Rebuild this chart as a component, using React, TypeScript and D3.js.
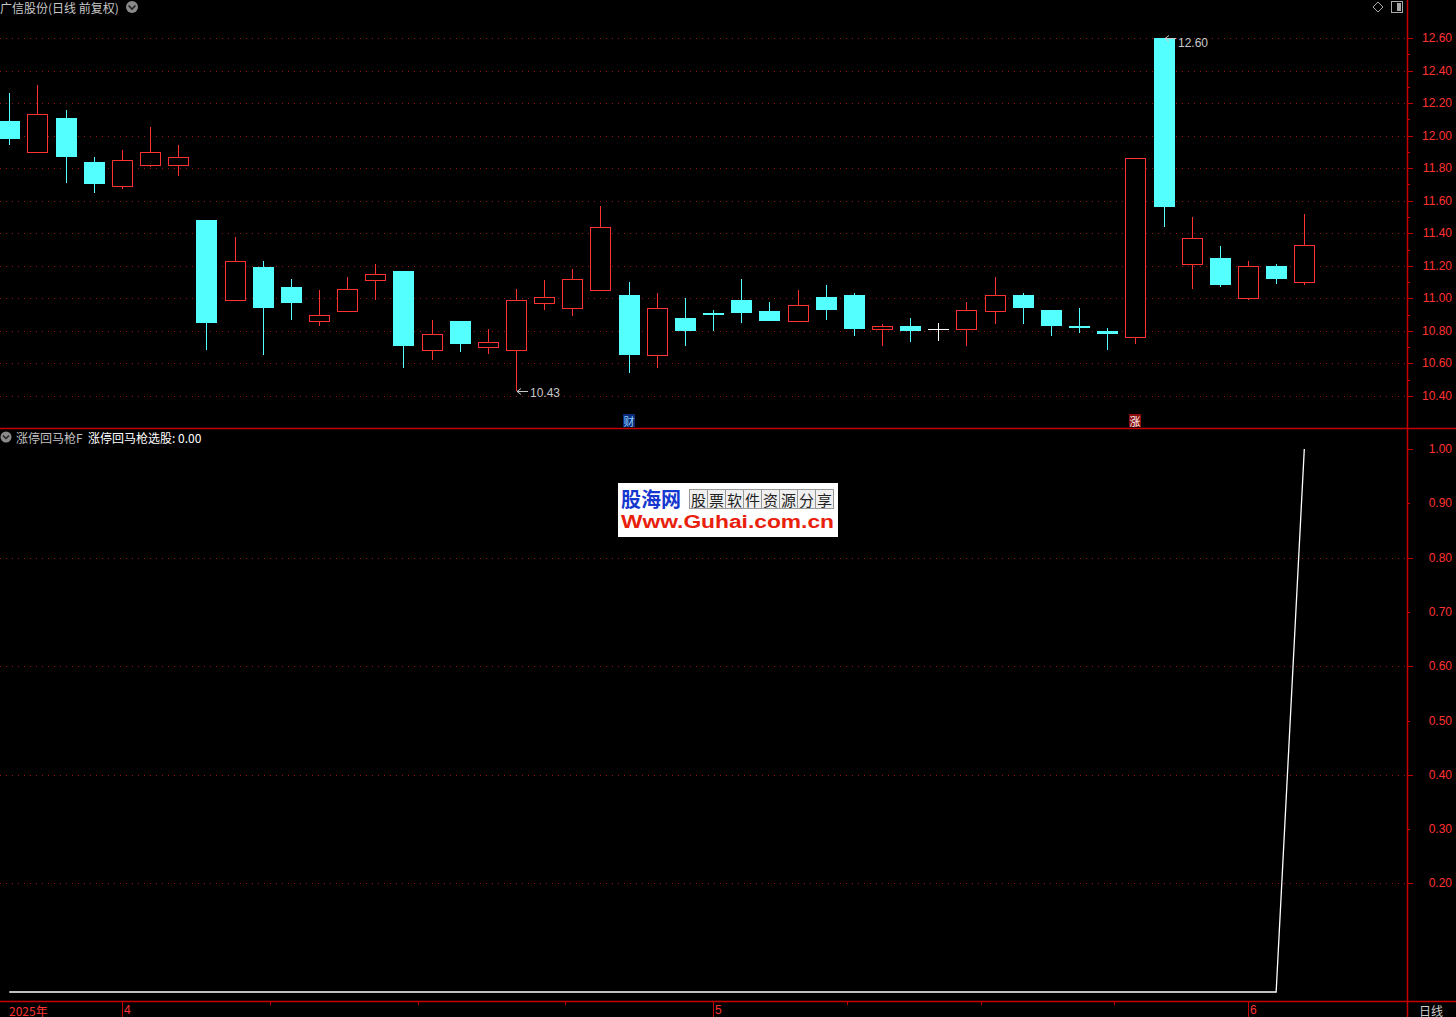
import React, { useEffect } from 'react';
import * as d3 from 'd3';

const W = 1456;
const H = 1017;

// Daily OHLC (前复权)
const opens = [12.09, 11.90, 12.11, 11.84, 11.69, 11.82, 11.82, 11.48, 10.99, 11.19, 11.07, 10.86, 10.92, 11.11, 11.17, 10.68, 10.86, 10.70, 10.68, 10.97, 10.94, 11.05, 11.02, 10.65, 10.88, 10.91, 10.99, 10.92, 10.86, 11.01, 11.02, 10.81, 10.83, 10.81, 10.81, 10.92, 11.02, 10.93, 10.83, 10.80, 10.76, 12.60, 11.21, 11.25, 11.00, 11.20, 11.10];
const highs = [12.26, 12.31, 12.16, 11.87, 11.91, 12.05, 11.94, 11.48, 11.38, 11.23, 11.12, 11.05, 11.13, 11.21, 11.17, 10.87, 10.86, 10.81, 11.06, 11.11, 11.18, 11.57, 11.10, 11.03, 11.00, 10.93, 11.12, 10.98, 11.05, 11.08, 11.03, 10.84, 10.88, 10.85, 10.98, 11.13, 11.03, 10.93, 10.94, 10.82, 11.86, 12.60, 11.50, 11.32, 11.23, 11.21, 11.52];
const lows = [11.94, 11.90, 11.71, 11.65, 11.67, 11.81, 11.75, 10.68, 10.99, 10.65, 10.87, 10.83, 10.92, 10.99, 10.57, 10.62, 10.67, 10.66, 10.43, 10.93, 10.89, 11.05, 10.54, 10.57, 10.71, 10.80, 10.85, 10.86, 10.86, 10.87, 10.77, 10.71, 10.73, 10.74, 10.71, 10.84, 10.84, 10.77, 10.79, 10.68, 10.72, 11.44, 11.06, 11.07, 10.99, 11.09, 11.08];
const closes = [11.98, 12.13, 11.87, 11.70, 11.85, 11.90, 11.87, 10.85, 11.23, 10.94, 10.97, 10.90, 11.06, 11.15, 10.71, 10.78, 10.72, 10.73, 10.99, 11.01, 11.12, 11.44, 10.65, 10.94, 10.80, 10.90, 10.91, 10.86, 10.96, 10.93, 10.81, 10.83, 10.80, 10.81, 10.93, 11.02, 10.94, 10.83, 10.82, 10.78, 11.86, 11.56, 11.37, 11.08, 11.20, 11.12, 11.33];

// 涨停回马枪选股 signal
const signal = [0, 0, 0, 0, 0, 0, 0, 0, 0, 0, 0, 0, 0, 0, 0, 0, 0, 0, 0, 0, 0, 0, 0, 0, 0, 0, 0, 0, 0, 0, 0, 0, 0, 0, 0, 0, 0, 0, 0, 0, 0, 0, 0, 0, 0, 0, 1];

const priceTicks = [10.4, 10.6, 10.8, 11.0, 11.2, 11.4, 11.6, 11.8, 12.0, 12.2, 12.4, 12.6];
const priceMinorTicks = [10.5, 10.7, 10.9, 11.1, 11.3, 11.5, 11.7, 11.9, 12.1, 12.3, 12.5];
const signalTicks = [0.2, 0.3, 0.4, 0.5, 0.6, 0.7, 0.8, 0.9, 1.0];
const signalGrid = [0.2, 0.4, 0.6, 0.8];

const yearLabel = '2025年';
const monthStartIdx = [4, 25, 44];
const monthLabels = ['4', '5', '6'];

const markerIdx = [22, 40];
const markerText = ['财', '涨'];

const titleText = '广信股份(日线 前复权)';
const indName = '涨停回马枪F';
const indLabel = '涨停回马枪选股: 0.00';

const RED = '#ff3232';
const AXIS = '#c80000';
const GRID = '#9a1414';
const CYAN = '#54ffff';
const NUMFONT = '"Liberation Sans", Arial, sans-serif';
const CJK = '"Noto Sans CJK SC", sans-serif';

export default function App() {
  useEffect(() => {
    document.body.style.margin = '0';
    document.body.style.background = '#000';
  }, []);

  const n = closes.length;
  const x = d3.scaleLinear().domain([0, n - 1]).range([9.3, 1304.3]);
  const y = d3.scaleLinear().domain([10.4, 12.6]).range([396, 38]);
  const y2 = d3.scaleLinear().domain([0, 1]).range([992, 449]);

  const axisX = 1407;
  const sepY = 428;
  const xAxisY = 1001;

  const fmt = d3.format('.2f');

  const candles = d3.range(n).map((i) => {
    const o = opens[i], h = highs[i], l = lows[i], c = closes[i];
    const cx = Math.round(x(i));
    const top = Math.round(y(Math.max(o, c)));
    const bot = Math.round(y(Math.min(o, c)));
    const yh = Math.round(y(h));
    const yl = Math.round(y(l));
    if (c === o) {
      return (
        <g key={i}>
          <line x1={cx + 0.5} x2={cx + 0.5} y1={yh} y2={yl} stroke="#fff" strokeWidth={1} />
          <line x1={cx - 10} x2={cx + 11} y1={top + 0.5} y2={top + 0.5} stroke="#fff" strokeWidth={1} />
        </g>
      );
    }
    if (c > o) {
      return (
        <g key={i}>
          {yh < top && <line x1={cx + 0.5} x2={cx + 0.5} y1={yh} y2={top} stroke={RED} />}
          {yl > bot && <line x1={cx + 0.5} x2={cx + 0.5} y1={bot} y2={yl} stroke={RED} />}
          <rect x={cx - 10 + 0.5} y={top + 0.5} width={20} height={Math.max(1, bot - top)} fill="#000" stroke={RED} strokeWidth={1} />
        </g>
      );
    }
    return (
      <g key={i}>
        <line x1={cx + 0.5} x2={cx + 0.5} y1={yh} y2={yl} stroke={CYAN} />
        <rect x={cx - 10} y={top} width={21} height={Math.max(2, bot - top)} fill={CYAN} />
      </g>
    );
  });

  // high/low annotations
  const hiIdx = d3.maxIndex(highs);
  const loIdx = d3.minIndex(lows);
  const annot = (i: number, v: number, dy: number, key: string) => {
    const tx = Math.round(x(i)) + 1;
    const ty = Math.round(y(v)) + 0.5;
    return (
      <g key={key}>
        <line x1={tx} x2={tx + 11} y1={ty} y2={ty} stroke="#c8c8c8" strokeWidth={1} />
        <path d={`M${tx},${ty} l4,-3 M${tx},${ty} l4,3`} stroke="#c8c8c8" strokeWidth={1} fill="none" />
        <text x={tx + 13} y={ty + dy} fill="#c8c8c8" fontSize={12} fontFamily={NUMFONT} dominantBaseline="central">{fmt(v)}</text>
      </g>
    );
  };

  const line = d3.line<number>().x((_, i) => x(i)).y((v) => y2(v));

  // month / quarter ticks
  const monthX = monthStartIdx.map((i) => Math.round(x(i)));
  const quarterX: number[] = [];
  for (let k = 0; k < monthX.length - 1; k++) {
    for (let q = 1; q < 4; q++) quarterX.push(Math.round(monthX[k] + ((monthX[k + 1] - monthX[k]) * q) / 4));
  }

  return (
    <svg width={W} height={H} style={{ display: 'block', position: 'absolute', left: 0, top: 0, background: '#000' }}>
      <rect x={0} y={0} width={W} height={H} fill="#000" />

      {/* top panel grid */}
      {priceTicks.map((v) => (
        <line key={'g' + v} x1={0} x2={axisX - 1} y1={Math.round(y(v)) + 0.5} y2={Math.round(y(v)) + 0.5} stroke={GRID} strokeDasharray="1 5" />
      ))}
      {/* bottom panel grid */}
      {signalGrid.map((v) => (
        <line key={'s' + v} x1={0} x2={axisX - 1} y1={Math.round(y2(v)) + 0.5} y2={Math.round(y2(v)) + 0.5} stroke={GRID} strokeDasharray="1 5" />
      ))}

      {/* candles */}
      {candles}
      {annot(hiIdx, highs[hiIdx], 4, 'hi')}
      {annot(loIdx, lows[loIdx], 1, 'lo')}

      {/* event markers */}
      {markerIdx.map((i, k) => {
        const cx = Math.round(x(i));
        const bg = k === 0 ? '#0a2a7a' : '#8a0c0c';
        const fg = k === 0 ? '#8fd0ff' : '#ffffff';
        return (
          <g key={'m' + k}>
            <rect x={cx - 6} y={414} width={12} height={13} fill={bg} />
            <text x={cx} y={421} fill={fg} fontSize={11} fontFamily={CJK} textAnchor="middle" dominantBaseline="central">{markerText[k]}</text>
          </g>
        );
      })}

      {/* signal line */}
      <path d={line(signal) || ''} fill="none" stroke="#ffffff" strokeWidth={1.3} />

      {/* separators */}
      <line x1={0} x2={W} y1={sepY + 0.5} y2={sepY + 0.5} stroke={AXIS} strokeWidth={1.5} />
      <line x1={0} x2={W} y1={xAxisY + 0.5} y2={xAxisY + 0.5} stroke={AXIS} strokeWidth={1.5} />
      <line x1={axisX + 0.5} x2={axisX + 0.5} y1={0} y2={H} stroke={AXIS} strokeWidth={1.5} />

      {/* price axis */}
      {priceTicks.map((v) => (
        <g key={'pt' + v}>
          <line x1={axisX} x2={axisX + 6} y1={Math.round(y(v)) + 0.5} y2={Math.round(y(v)) + 0.5} stroke={AXIS} />
          <text x={1452} y={y(v)} fill={RED} fontSize={12} fontFamily={NUMFONT} textAnchor="end" dominantBaseline="central">{fmt(v)}</text>
        </g>
      ))}
      {priceMinorTicks.map((v) => (
        <line key={'pm' + v} x1={axisX} x2={axisX + 3} y1={Math.round(y(v)) + 0.5} y2={Math.round(y(v)) + 0.5} stroke={AXIS} />
      ))}

      {/* signal axis */}
      {signalTicks.map((v) => {
        const major = signalGrid.includes(v) || v === 1.0;
        return (
          <g key={'st' + v}>
            <line x1={axisX} x2={axisX + (major ? 6 : 3)} y1={Math.round(y2(v)) + 0.5} y2={Math.round(y2(v)) + 0.5} stroke={AXIS} />
            <text x={1452} y={y2(v)} fill={RED} fontSize={12} fontFamily={NUMFONT} textAnchor="end" dominantBaseline="central">{fmt(v)}</text>
          </g>
        );
      })}

      {/* date axis */}
      <text x={9} y={1010} fill={RED} fontSize={12} fontFamily={CJK} dominantBaseline="central">{yearLabel}</text>
      {monthX.map((mx, k) => (
        <g key={'mx' + k}>
          <line x1={mx + 0.5} x2={mx + 0.5} y1={xAxisY} y2={H} stroke={AXIS} />
          <text x={mx + 2} y={1010} fill={RED} fontSize={12} fontFamily={NUMFONT} dominantBaseline="central">{monthLabels[k]}</text>
        </g>
      ))}
      {quarterX.map((qx, k) => (
        <line key={'q' + k} x1={qx + 0.5} x2={qx + 0.5} y1={xAxisY} y2={xAxisY + 4} stroke={AXIS} />
      ))}
      <text x={1419} y={1010} fill="#d0d0d0" fontSize={12} fontFamily={CJK} dominantBaseline="central">日线</text>

      {/* title */}
      <text x={0} y={7} fill="#c8c8c8" fontSize={12} fontFamily={CJK} dominantBaseline="central">{titleText}</text>
      <circle cx={132} cy={7} r={6} fill="#8a8a8a" />
      <path d="M128.5,5.5 L132,9 L135.5,5.5" stroke="#222" strokeWidth={1.6} fill="none" />

      {/* top-right icons */}
      <path d="M1378,2 L1383,7 L1378,12 L1373,7 Z" fill="none" stroke="#aaaaaa" strokeWidth={1} />
      <rect x={1391.5} y={1.5} width={11} height={11} fill="none" stroke="#aaaaaa" />
      <rect x={1397} y={3} width={4} height={8} fill="#aaaaaa" />

      {/* indicator legend */}
      <circle cx={6} cy={437} r={5.5} fill="#8a8a8a" />
      <path d="M3,435.5 L6,438.5 L9,435.5" stroke="#222" strokeWidth={1.5} fill="none" />
      <text x={16} y={437} fill="#c0c0c0" fontSize={12} fontFamily={CJK} dominantBaseline="central">{indName}</text>
      <text x={88} y={437} fill="#ffffff" fontSize={12} fontFamily={CJK} dominantBaseline="central">{indLabel}</text>

      {/* watermark */}
      <g>
        <rect x={618} y={483} width={220} height={54} fill="#ffffff" />
        <text x={621} y={507} fill="#1437d0" fontSize={20} fontWeight="bold" fontFamily={CJK}>股海网</text>
        {'股票软件资源分享'.split('').map((ch, k) => (
          <g key={'w' + k}>
            <rect x={689.5 + k * 18} y={489.5} width={18} height={19} fill="#f0f0f0" stroke="#999" strokeWidth={1} />
            <text x={698.5 + k * 18} y={499} fill="#222" fontSize={15} fontFamily={CJK} textAnchor="middle" dominantBaseline="central">{ch}</text>
          </g>
        ))}
        <text x={621} y={528} fill="#e8200c" fontSize={18} fontWeight="bold" fontFamily={NUMFONT} textLength={213} lengthAdjust="spacingAndGlyphs">Www.Guhai.com.cn</text>
      </g>
    </svg>
  );
}
